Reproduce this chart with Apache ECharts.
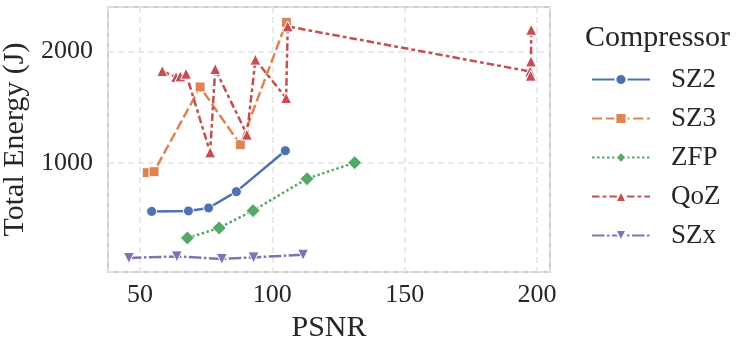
<!DOCTYPE html>
<html style="height: 100%">
<head>
<meta charset="utf-8">
</head>
<body style="height: 100%; margin: 0; background: #fff">
<div id="container" style="width: 748px; height: 351px"></div>
<script type="text/javascript" src="https://cdn.jsdelivr.net/npm/echarts@6/dist/echarts.min.js"></script>
<script type="text/javascript">
// PSNR (x) and total energy in J (y) per compressor
var sz2X = [54.4, 68.3, 75.9, 86.4, 104.9];
var sz2Y = [566, 570, 597, 743, 1110];
var sz3X = [52.7, 55.3, 72.7, 87.9, 105.3];
var sz3Y = [913, 922, 1681, 1164, 2260];
var zfpX = [67.9, 79.9, 92.7, 113.1, 131.1];
var zfpY = [328, 418, 573, 859, 1003];
var qozX = [58.4, 63.6, 65.2, 67.4, 76.5, 78.4, 90.4, 93.6, 105.2, 105.8, 197.4, 197.6, 197.7, 197.8];
var qozY = [1824, 1770, 1776, 1800, 1095, 1842, 1254, 1926, 1582, 2224, 1820, 1782, 1910, 2194];
var szxX = [45.8, 63.9, 80.9, 92.9, 111.6];
var szxY = [149, 163, 140, 154, 178];
var names = ['SZ2', 'SZ3', 'ZFP', 'QoZ', 'SZx'];

function pairs(xs, ys) {
	var out = [];
	for (var i = 0; i < xs.length; i++) out.push([xs[i], ys[i]]);
	return out;
}

var font = "'Liberation Serif', 'Times New Roman', serif";
var ink = '#262626';
var lw = 2.5;

function mk(name, data, color, dash, symbol, size, rot) {
	return {
		name: name,
		type: 'line',
		data: data,
		symbol: symbol,
		symbolSize: size,
		symbolRotate: rot || 0,
		showSymbol: true,
		animation: false,
		itemStyle: { color: color, borderColor: '#fff', borderWidth: 1 },
		lineStyle: { color: color, width: lw, type: dash }
	};
}

var dom = document.getElementById("container");
var myChart = echarts.init(dom, null, { renderer: 'canvas' });
var option = {
	backgroundColor: '#fff',
	animation: false,
	title: {
		text: 'Compressor',
		left: 585,
		top: 23,
		padding: 0,
		textStyle: { fontFamily: font, fontSize: 30, fontWeight: 'normal', color: ink, lineHeight: 30 }
	},
	legend: {
		orient: 'vertical',
		left: 591,
		top: 66,
		itemWidth: 58,
		itemHeight: 14,
		itemGap: 12,
		padding: 0,
		data: names,
		textStyle: { fontFamily: font, fontSize: 27, color: ink, lineHeight: 27, padding: [0, 0, 0, 16] }
	},
	grid: {
		left: 108,
		right: 198,
		top: 7,
		bottom: 79,
		show: true,
		borderColor: '#cccccc',
		borderWidth: 2,
		containLabel: false,
		outerBoundsMode: 'none'
	},
	xAxis: {
		type: 'value',
		min: 37.9,
		max: 204.9,
		minInterval: 50,
		maxInterval: 50,
		name: 'PSNR',
		nameLocation: 'middle',
		nameGap: 37,
		nameTextStyle: { fontFamily: font, fontSize: 30, color: ink },
		axisLine: { show: false },
		axisTick: { show: false },
		axisLabel: {
			fontFamily: font, fontSize: 26, color: ink, margin: 10,
			showMinLabel: false, showMaxLabel: false,
			formatter: function(v) { return String(v); }
		},
		splitLine: { show: true, lineStyle: { color: '#e3e3e3', width: 1.5, type: [6, 4] } }
	},
	yAxis: {
		type: 'value',
		min: 23,
		max: 2398,
		minInterval: 1000,
		maxInterval: 1000,
		name: 'Total Energy (J)',
		nameLocation: 'middle',
		nameGap: 71,
		nameTextStyle: { fontFamily: font, fontSize: 30, color: ink },
		axisLine: { show: false },
		axisTick: { show: false },
		axisLabel: {
			fontFamily: font, fontSize: 26, color: ink, margin: 15,
			showMinLabel: false, showMaxLabel: false,
			formatter: function(v) { return String(v); }
		},
		splitLine: { show: true, lineStyle: { color: '#e3e3e3', width: 1.5, type: [6, 4] } }
	},
	series: [
		mk('SZ2', pairs(sz2X, sz2Y), '#4c72b0', 'solid', 'circle', 10),
		mk('SZ3', pairs(sz3X, sz3Y), '#dd8452', [10, 3.75], 'rect', 10),
		mk('ZFP', pairs(zfpX, zfpY), '#55a868', [2.5, 2.5], 'diamond', 14),
		mk('QoZ', pairs(qozX, qozY), '#c44e52', [7.5, 3.1, 3.75, 3.1], 'triangle', 11),
		mk('SZx', pairs(szxX, szxY), '#8172b3', [12.5, 2.5, 2.5, 2.5], 'triangle', 11, 180)
	]
};
myChart.setOption(option, true);
</script>
</body>
</html>
